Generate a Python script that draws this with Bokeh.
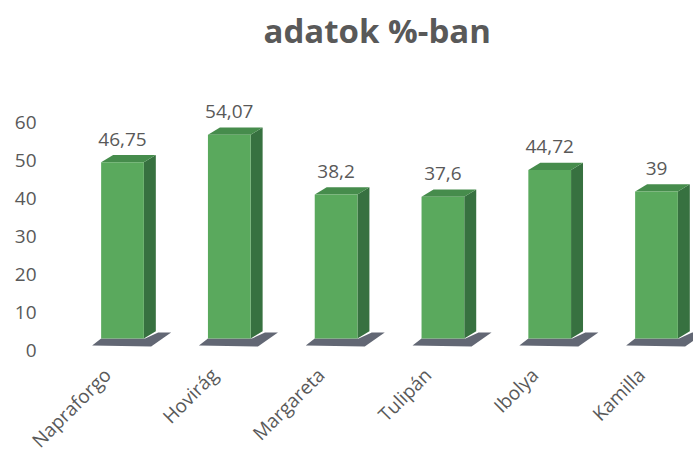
import math
from bokeh.plotting import figure
from bokeh.models import Range1d, FixedTicker, ColumnDataSource, LabelSet
from bokeh.core.properties import value
from bokeh.embed import file_html
from bokeh.resources import INLINE

# ---- data ----
categories = ["Napraforgo", "Hovirág", "Margareta", "Tulipán", "Ibolya", "Kamilla"]
values = [46.75, 54.07, 38.2, 37.6, 44.72, 39]
value_labels = [f"{v:g}".replace(".", ",") for v in values]
y_ticks = [0, 10, 20, 30, 40, 50, 60]

# ---- style / layout ----
FONT = "Open Sans"
TEXT_COLOR = "#595959"
FRONT = "#5aa95d"
SIDE = "#377140"
TOP = "#468c4c"
SHADOW = "#474c5c"
HALF_W = 0.20          # half width of the front face (x units)
DX = 0.112             # depth offset (x units)
DY = 1.9               # depth offset (bar y units)

W, H = 693, 454
FRAME_TOP = 54
X0_PX, X_SCALE = 122.0, 106.8        # pixel of first category, px per category
AX0_PX, AX_SCALE = 350.0, 3.805      # axis zero pixel, px per unit
BAR0_PX, BAR_SCALE = 338.0, 3.77     # bar base pixel (3-D floor), px per unit

p = figure(width=W, height=H, output_backend="svg", toolbar_location=None,
           x_range=Range1d(-X0_PX / X_SCALE, (W - X0_PX) / X_SCALE),
           y_range=Range1d(-(H - AX0_PX) / AX_SCALE, (AX0_PX - FRAME_TOP) / AX_SCALE),
           min_border_left=0, min_border_right=0, min_border_bottom=0,
           min_border_top=FRAME_TOP, x_axis_location=None, y_axis_location="left")
p.extra_y_ranges = {"bars": Range1d(-(H - BAR0_PX) / BAR_SCALE,
                                    (BAR0_PX - FRAME_TOP) / BAR_SCALE)}

p.outline_line_color = None
p.grid.visible = False
p.background_fill_color = "white"
p.border_fill_color = "white"

# y axis (drawn at a fixed x so it takes no panel space)
ya = p.yaxis[0]
ya.fixed_location = (45 - X0_PX) / X_SCALE
ya.ticker = FixedTicker(ticks=y_ticks)
ya.axis_line_color = None
ya.major_tick_line_color = None
ya.minor_tick_line_color = None
ya.major_tick_out = 0
ya.major_tick_in = 0
ya.major_label_standoff = 9
ya.major_label_text_font = FONT
ya.major_label_text_font_size = "19px"
ya.major_label_text_color = TEXT_COLOR

# title
p.title.text = "adatok %-ban"
p.title.text_font = FONT
p.title.text_font_size = "33px"
p.title.text_font_style = "bold"
p.title.text_color = TEXT_COLOR
p.title.align = "left"
p.title.offset = 263
p.title.standoff = 4

xs = list(range(len(categories)))

# shadows (pixel offsets converted to data units)
shadow_xs, shadow_ys = [], []
for i in xs:
    l = i - HALF_W
    pts = [(-9, 7), (50, 8), (70, -6), (57, -6), (44, 0), (0, 0)]
    shadow_xs.append([l + a / X_SCALE for a, b in pts])
    shadow_ys.append([-b / BAR_SCALE for a, b in pts])
p.patches(shadow_xs, shadow_ys, fill_color=SHADOW, fill_alpha=0.85, line_color=None,
          y_range_name="bars")

# side and top faces
side_xs, side_ys, top_xs, top_ys = [], [], [], []
for i, v in zip(xs, values):
    r = i + HALF_W
    l = i - HALF_W
    side_xs.append([r, r + DX, r + DX, r])
    side_ys.append([0, DY, v + DY, v])
    top_xs.append([l, l + DX, r + DX, r])
    top_ys.append([v, v + DY, v + DY, v])
p.patches(side_xs, side_ys, fill_color=SIDE, line_color=None, y_range_name="bars")
p.patches(top_xs, top_ys, fill_color=TOP, line_color=None, y_range_name="bars")

# front faces
src = ColumnDataSource(dict(x=xs, top=values, lab=value_labels, cat=categories,
                            zero=[0] * len(xs)))
p.vbar(x="x", top="top", bottom=0, width=2 * HALF_W, source=src,
       fill_color=FRONT, line_color=None, y_range_name="bars")

# value labels
p.add_layout(LabelSet(x="x", y="top", text="lab", source=src, y_range_name="bars",
                      text_align="center", text_baseline="middle", y_offset=23,
                      text_font=value(FONT), text_font_size=value("19px"),
                      text_color=TEXT_COLOR))

# category labels (rotated 45 degrees)
p.add_layout(LabelSet(x="x", y="zero", text="cat", source=src, y_range_name="bars",
                      angle=math.pi / 4, text_align="right", text_baseline="middle",
                      x_offset=-15, y_offset=-33,
                      text_font=value(FONT), text_font_size=value("19px"),
                      text_color=TEXT_COLOR))

open("out.html", "w").write(file_html(p, INLINE))
